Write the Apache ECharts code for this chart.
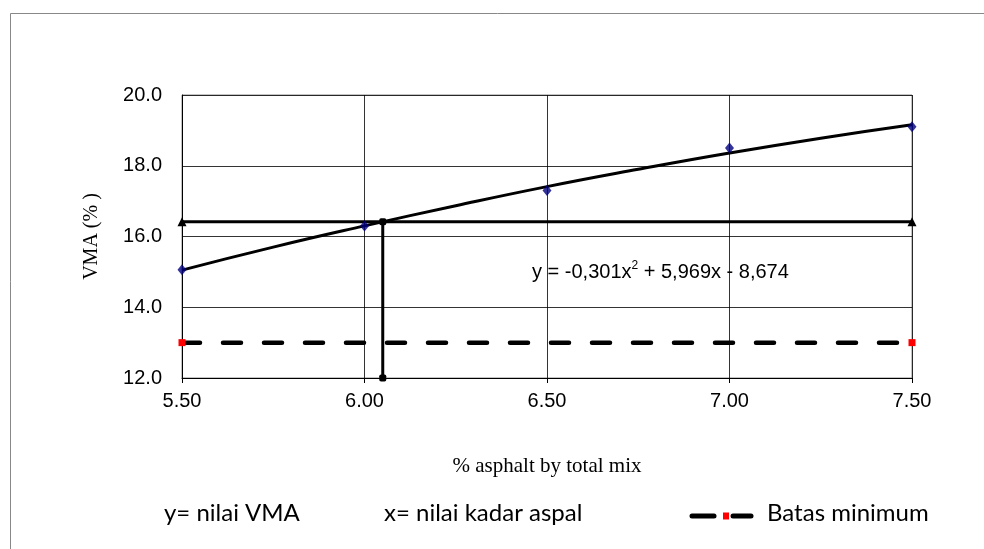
<!DOCTYPE html>
<html><head><meta charset="utf-8">
<script src="https://cdn.jsdelivr.net/npm/echarts@6/dist/echarts.min.js"></script>
<style>html,body{margin:0;padding:0;background:#fff}#c{width:984px;height:549px}</style>
</head><body><div id="c"></div>
<script>
const asphalt = [5.5, 6.0, 6.5, 7.0, 7.5];
const vma = [15.06, 16.3, 17.3, 18.5, 19.1];
const trendX = [5.5, 5.75, 6.0, 6.25, 6.5, 6.75, 7.0, 7.25, 7.5];
const trendY = [15.05, 15.70, 16.30, 16.87, 17.41, 17.90, 18.36, 18.78, 19.16];
const optX = 6.05;
const optY = 16.42;
const minVMA = 13.0;
const xTicks = ['5.50', '6.00', '6.50', '7.00', '7.50'];
const yTicks = ['12.0', '14.0', '16.0', '18.0', '20.0'];

const chart = echarts.init(document.getElementById('c'));
const zip = (a, b) => a.map((v, i) => [v, b[i]]);
chart.setOption({
  animation: false,
  backgroundColor: '#fff',
  grid: { left: 182, right: 72, top: 95, bottom: 171, show: true, borderColor: '#888', borderWidth: 1 },
  xAxis: {
    type: 'value', min: 5.5, max: 7.5, interval: 0.5,
    name: '% asphalt by total mix', nameLocation: 'middle', nameGap: 78,
    nameTextStyle: { fontFamily: 'Liberation Serif', fontSize: 21, color: '#000' },
    axisLine: { lineStyle: { color: '#000', width: 1 } },
    axisTick: { show: true, length: 5, inside: false, lineStyle: { color: '#000' } },
    axisLabel: { fontFamily: 'Liberation Sans', fontSize: 20, color: '#000', margin: 13,
      formatter: v => xTicks.find(t => Math.abs(parseFloat(t) - v) < 1e-6) || '' },
    splitLine: { show: true, lineStyle: { color: '#000', width: 0.8 } }
  },
  yAxis: {
    type: 'value', min: 12, max: 20, interval: 2,
    name: 'VMA (% )', nameLocation: 'middle', nameGap: 80, nameRotate: 90,
    nameTextStyle: { fontFamily: 'Liberation Serif', fontSize: 20, color: '#000' },
    axisLine: { show: true, lineStyle: { color: '#000', width: 1 } },
    axisTick: { show: false },
    axisLabel: { fontFamily: 'Liberation Sans', fontSize: 20, color: '#000', margin: 20,
      formatter: v => yTicks.find(t => Math.abs(parseFloat(t) - v) < 1e-6) || '' },
    splitLine: { show: true, lineStyle: { color: '#000', width: 0.8 } }
  },
  series: [
    { type: 'line', name: 'Batas minimum', data: zip([5.5, 7.5], [minVMA, minVMA]),
      lineStyle: { color: '#000', width: 4.5, type: [18, 23], cap: 'round' },
      symbol: 'rect', symbolSize: 7, itemStyle: { color: '#ff0000' }, z: 3 },
    { type: 'line', name: 'trend', data: zip(trendX, trendY), smooth: true, symbol: 'none',
      lineStyle: { color: '#000', width: 3 }, z: 4 },
    { type: 'line', name: 'opt', data: zip([5.5, 7.5], [optY, optY]),
      lineStyle: { color: '#000', width: 3 }, symbol: 'triangle', symbolSize: 9,
      itemStyle: { color: '#000' }, z: 4 },
    { type: 'line', name: 'vert', data: [[optX, 12], [optX, optY]],
      lineStyle: { color: '#000', width: 3 }, symbol: 'roundRect', symbolSize: 7,
      itemStyle: { color: '#000' }, z: 4 },
    { type: 'scatter', name: 'VMA', data: zip(asphalt, vma), symbol: 'diamond', symbolSize: [9, 11],
      itemStyle: { color: '#000080' }, z: 5 }
  ],
  graphic: [
    { type: 'rect', left: 8, top: 11, shape: { width: 990, height: 550 },
      style: { fill: 'none', stroke: '#888', lineWidth: 1 }, silent: true, z: -10 },
    { type: 'text', left: 532, top: 260, style: {
      text: '{n|y = -0,301x}{s|2}{n| + 5,969x - 8,674}',
      rich: { n: { fontFamily: 'Liberation Sans', fontSize: 20, fill: '#000', verticalAlign: 'bottom' },
              s: { fontFamily: 'Liberation Sans', fontSize: 12, fill: '#000', verticalAlign: 'top', padding: [0, 0, 10, 0] } } } },
    { type: 'text', left: 164, top: 501, style: { text: 'y= nilai VMA', fontFamily: 'Lato', fontSize: 24, fill: '#000' } },
    { type: 'text', left: 384, top: 501, style: { text: 'x= nilai kadar aspal', fontFamily: 'Lato', fontSize: 24, fill: '#000' } },
    { type: 'line', shape: { x1: 692, y1: 516, x2: 714, y2: 516 }, style: { stroke: '#000', lineWidth: 5, lineCap: 'round' } },
    { type: 'rect', shape: { x: 723, y: 512.5, width: 6, height: 7 }, style: { fill: '#ff0000' } },
    { type: 'line', shape: { x1: 733, y1: 516, x2: 751, y2: 516 }, style: { stroke: '#000', lineWidth: 5, lineCap: 'round' } },
    { type: 'text', left: 767, top: 501, style: { text: 'Batas minimum', fontFamily: 'Lato', fontSize: 24, fill: '#000' } }
  ]
});
</script></body></html>
